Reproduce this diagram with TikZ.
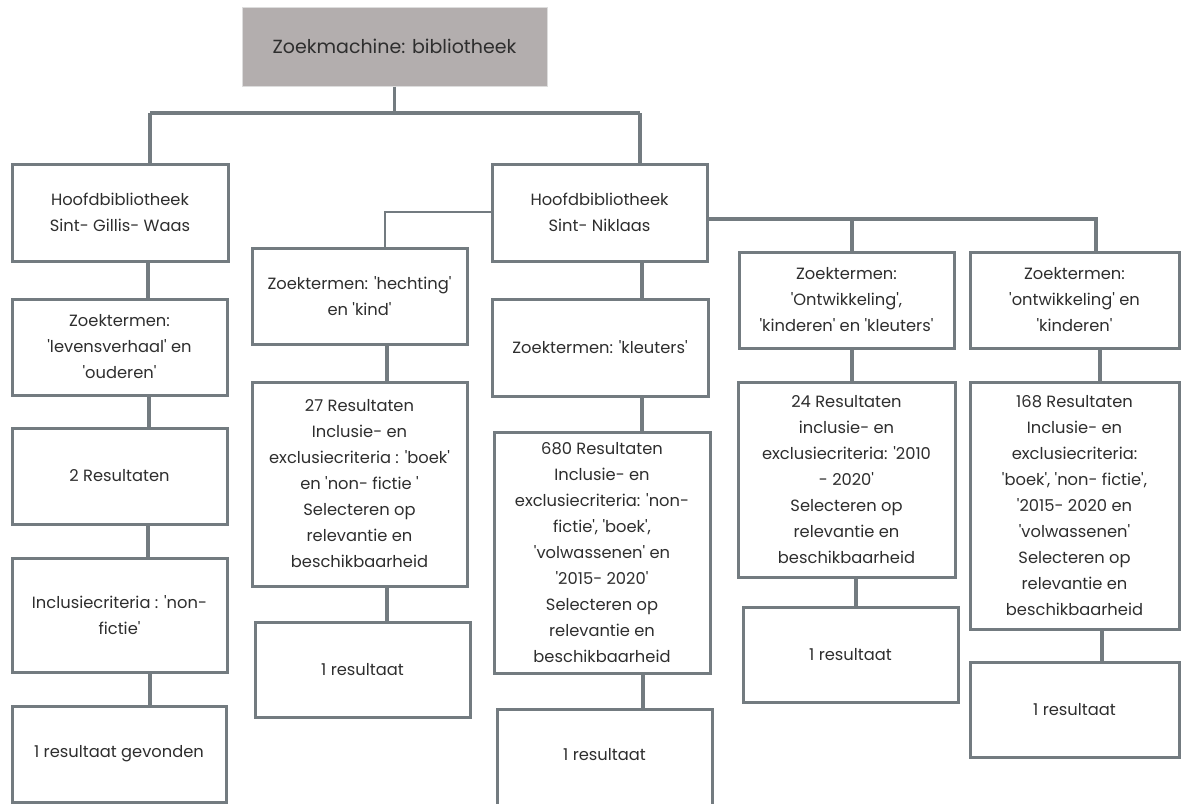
\documentclass[tikz,border=0pt]{standalone}
\usepackage{fontspec}
\newfontfamily\pfont{Poppins}
\definecolor{linec}{HTML}{737B80}
\definecolor{txt}{HTML}{2E2E2E}
\definecolor{topfill}{HTML}{B3AEAE}
\definecolor{topedge}{HTML}{DDDDDD}
\newcommand\nbox[7][]{\node[box,#1,minimum width={#5-#3},minimum height={#6-#4}] (#2) at ({(#3+#5)/2},{(#4+#6)/2}) {#7};}
\begin{document}
\begin{tikzpicture}[x=1pt,y=-1pt,
  box/.style={draw=linec, line width=3pt, fill=white, align=center, inner sep=0pt,
    font=\pfont\fontsize{16.3}{26}\selectfont, text=txt},
  topbox/.style={fill=topfill, draw=topedge, line width=1pt, font=\pfont\fontsize{19}{24}\selectfont},
  conn/.style={draw=linec, line width=3.2pt},
  thinconn/.style={draw=linec, line width=2pt}]
\useasboundingbox (0,0) rectangle (1183,803);
\fill[white] (0,0) rectangle (1183,803);
% nodes
\nbox[topbox]{top}{242}{7}{547}{86}{Zoekmachine: bibliotheek}
\nbox{sg}{12}{164}{228}{261}{Hoofdbibliotheek\\Sint- Gillis- Waas}
\nbox{lv}{12}{299}{227}{395}{Zoektermen:\\'levensverhaal' en\\'ouderen'}
\nbox{rtwo}{12}{428}{227}{524}{2 Resultaten}
\nbox{inc}{12}{558}{227}{672}{Inclusiecriteria : 'non-\\fictie'}
\nbox{gev}{12}{706}{226}{802}{1 resultaat gevonden}
\nbox{hk}{252}{248}{467}{344}{Zoektermen: 'hechting'\\en 'kind'}
\nbox{rtw}{252}{382}{467}{586}{27 Resultaten\\Inclusie- en\\exclusiecriteria : 'boek'\\en 'non- fictie '\\Selecteren op\\relevantie en\\beschikbaarheid}
\nbox{hone}{255}{622}{470}{717}{1 resultaat}
\nbox{sn}{492}{164}{707}{261}{Hoofdbibliotheek\\Sint- Niklaas}
\nbox{kl}{492}{299}{708}{396}{Zoektermen: 'kleuters'}
\nbox{rsix}{494}{432}{710}{673}{680 Resultaten\\Inclusie- en\\exclusiecriteria: 'non-\\fictie', 'boek',\\'volwassenen' en\\'2015- 2020'\\Selecteren op\\relevantie en\\beschikbaarheid}
\nbox{kone}{497}{709}{712}{810}{\raisebox{5pt}[\height][\depth]{1 resultaat}}
\nbox{on}{739}{252}{954}{348}{Zoektermen:\\'Ontwikkeling',\\'kinderen' en 'kleuters'}
\nbox{rtf}{738}{382}{955}{577}{24 Resultaten\\inclusie- en\\exclusiecriteria: '2010\\- 2020'\\Selecteren op\\relevantie en\\beschikbaarheid}
\nbox{oone}{743}{607}{958}{702}{1 resultaat}
\nbox{ok}{970}{252}{1179}{348}{Zoektermen:\\'ontwikkeling' en\\'kinderen'}
\nbox{ros}{970}{382}{1179}{629}{168 Resultaten\\Inclusie- en\\exclusiecriteria:\\'boek', 'non- fictie',\\'2015- 2020 en\\'volwassenen'\\Selecteren op\\relevantie en\\beschikbaarheid}
\nbox{okone}{970}{662}{1179}{757}{1 resultaat}
% junction coordinates
\coordinate (hub) at (394.5,113);
\coordinate (bl) at (150,113);
\coordinate (br) at (640,113);
\coordinate (tl) at (385,212);
\coordinate (rj) at (1096,219);
\coordinate (rm) at (852,219);
% connectors
\draw[conn] (top.south) -- (hub);
\draw[conn, line width=4pt] (bl) -- (br);
\draw[conn] (bl) -- (sg.north -| bl);
\draw[conn] (br) -- (sn.north -| br);
\draw[conn] (sg.south -| 148,0) -- (lv.north -| 148,0);
\draw[conn] (lv.south -| 149,0) -- (rtwo.north -| 149,0);
\draw[conn] (rtwo.south -| 148,0) -- (inc.north -| 148,0);
\draw[conn] (inc.south -| 150,0) -- (gev.north -| 150,0);
\draw[thinconn] (sn.west |- tl) -- (tl) -- (hk.north -| tl);
\draw[conn] (hk.south -| 387,0) -- (rtw.north -| 387,0);
\draw[conn] (rtw.south -| 387,0) -- (hone.north -| 387,0);
\draw[conn] (sn.south -| 642,0) -- (kl.north -| 642,0);
\draw[conn] (kl.south -| 642,0) -- (rsix.north -| 642,0);
\draw[conn] (rsix.south -| 643,0) -- (kone.north -| 643,0);
\draw[conn] (sn.east |- rj) -- (rj) -- (ok.north -| rj);
\draw[conn] (rm) -- (on.north -| rm);
\draw[conn] (on.south -| 852,0) -- (rtf.north -| 852,0);
\draw[conn] (rtf.south -| 856,0) -- (oone.north -| 856,0);
\draw[conn] (ok.south -| 1100,0) -- (ros.north -| 1100,0);
\draw[conn] (ros.south -| 1102,0) -- (okone.north -| 1102,0);
\end{tikzpicture}
\end{document}
